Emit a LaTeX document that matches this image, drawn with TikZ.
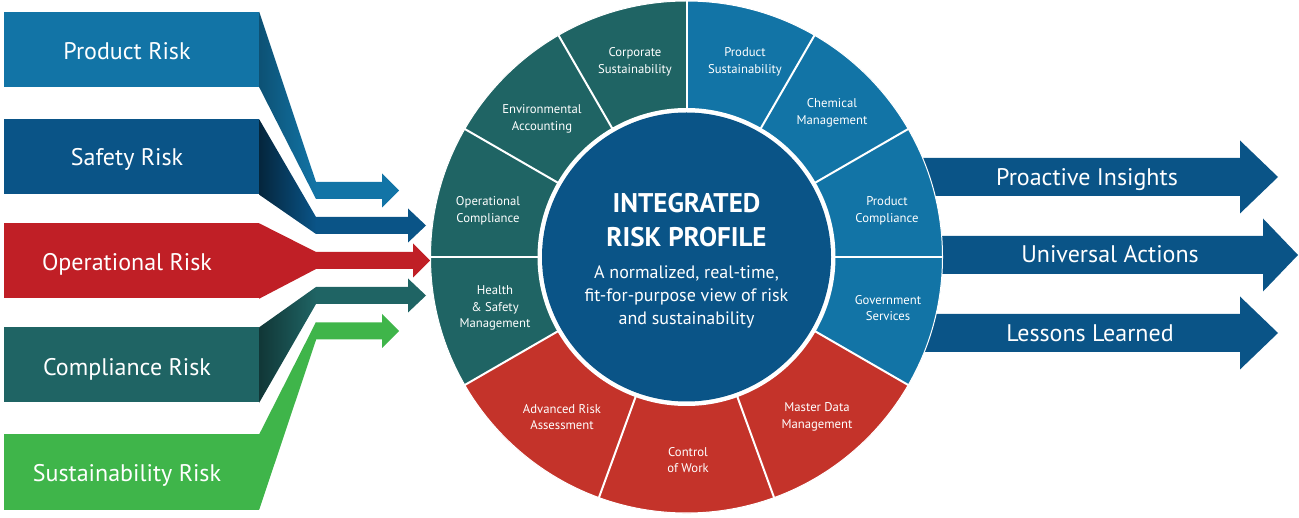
\documentclass[tikz,border=0pt]{standalone}
\usepackage{fontspec}
\setmainfont{PT Sans}
\definecolor{pblue}{HTML}{1274A6}
\definecolor{dblue}{HTML}{0A5487}
\definecolor{mteal}{HTML}{1F6464}
\definecolor{rred}{HTML}{C01F26}
\definecolor{sred}{HTML}{C4332A}
\definecolor{ggreen}{HTML}{3FB54A}
\tikzset{
  riskbox/.style={minimum width=255pt, minimum height=75pt, inner sep=0pt},
  bigtext/.style={text=white, font=\fontsize{24}{28}\selectfont, inner sep=0pt, anchor=base},
  seglabel/.style={text=white, align=center, font=\fontsize{12.7}{16.8}\selectfont, inner sep=0pt},
  sepline/.style={white, line width=2pt},
}
\newcommand\riskarrow[4]{% center y, head start x, tip x, colour
  \fill[#4] (316,{#1+8.5}) -- (#2,{#1+8.5}) -- (#2,{#1+17}) -- (#3,#1) -- (#2,{#1-17}) -- (#2,{#1-8.5}) -- (316,{#1-8.5}) -- cycle;}
\newcommand\outarrow[3]{% center y, head start x, tip x
  \fill[dblue] (880,{#1+19}) -- (#2,{#1+19}) -- (#2,{#1+36.5}) -- (#3,#1) -- (#2,{#1-36.5}) -- (#2,{#1-19}) -- (880,{#1-19}) -- cycle;}
\begin{document}
\begin{tikzpicture}[x=1pt,y=1pt]
\useasboundingbox (0,0) rectangle (1299,517);
% left boxes
\node[riskbox, fill=pblue] (pr) at (131.5,467.5) {};
\node[riskbox, fill=dblue] (sr) at (131.5,360) {};
\node[riskbox, fill=rred] (or) at (131.5,256) {};
\node[riskbox, fill=mteal] (cr) at (131.5,152) {};
\node[riskbox, fill=ggreen] (su) at (131.5,45) {};
\node[bigtext] (prt) at (127,457) {Product Risk};
\node[bigtext] (srt) at (127,351) {Safety Risk};
\node[bigtext] (ort) at (127,246) {Operational Risk};
\node[bigtext] (crt) at (127,141) {Compliance Risk};
\node[bigtext] (sut) at (127,35) {Sustainability Risk};
% connectors
\shade[left color=pblue!70!black, right color=pblue] (pr.north east) -- (316,335) -- (316,318) -- (pr.south east) -- cycle;
\shade[left color=dblue!45!black, right color=dblue] (sr.north east) -- (316,300) -- (316,283) -- (sr.south east) -- cycle;
\fill[rred] (or.north east) -- (316,265) -- (316,248) -- (or.south east) -- cycle;
\shade[left color=mteal!55!black, right color=mteal] (cr.north east) -- (316,230) -- (316,213) -- (cr.south east) -- cycle;
\fill[ggreen] (su.north east) -- (316,195) -- (316,177) -- (su.south east) -- cycle;
% arrows into circle
\riskarrow{326.5}{382}{399}{pblue}
\riskarrow{291.5}{408}{426}{dblue}
\riskarrow{256.5}{413}{430}{rred}
\riskarrow{221.5}{408}{426}{mteal}
\riskarrow{186}{382}{399}{ggreen}
% outgoing arrows
\outarrow{340}{1240}{1278}
\outarrow{262}{1263}{1298}
\outarrow{184}{1240}{1278}
\node[bigtext] (pi) at (1087,331) {Proactive Insights};
\node[bigtext] (ua) at (1110,254) {Universal Actions};
\node[bigtext] (ll) at (1090,175) {Lessons Learned};
% wheel
\begin{scope}[shift={(686.5,260)}]
  \fill[mteal] (0,0) -- (90:256) arc[start angle=90, end angle=210, radius=256] -- cycle;
  \fill[pblue] (0,0) -- (-30:256) arc[start angle=-30, end angle=90, radius=256] -- cycle;
  \fill[sred] (0,0) -- (210:256) arc[start angle=210, end angle=330, radius=256] -- cycle;
  \draw[white, line width=1pt] (0,0) circle[radius=256];
  \foreach \a in {0,30,60,90,120,150,180,210,250,290,330}
    \draw[sepline] (\a:140) -- (\a:256);
  \fill[white] (0,0) circle[radius=149];
  \fill[dblue] (0,0) circle[radius=144.5];
\end{scope}
% segment labels
\node[seglabel] (cs) at (635,455.5) {Corporate\\Sustainability};
\node[seglabel] (ps) at (745,455.5) {Product\\Sustainability};
\node[seglabel] (ea) at (542,398.5) {Environmental\\Accounting};
\node[seglabel] (cm) at (832,404) {Chemical\\Management};
\node[seglabel] (oc) at (488,306) {Operational\\Compliance};
\node[seglabel] (pc) at (887,306) {Product\\Compliance};
\node[seglabel] (hs) at (495,209) {Health\\\&~Safety\\Management};
\node[seglabel] (gs) at (888,209) {Government\\Services};
\node[seglabel] (ar) at (562,100) {Advanced Risk\\Assessment};
\node[seglabel] (cw) at (688,57) {Control\\of Work};
\node[seglabel] (md) at (817,100) {Master Data\\Management};
% centre text
\tikzset{titletext/.style={text=white, inner sep=0pt, anchor=base, font=\bfseries\fontsize{27}{31}\selectfont},
         subtext/.style={text=white, inner sep=0pt, anchor=base, font=\fontsize{18}{22}\selectfont}}
\node[titletext] (t1) at (686.5,304) {INTEGRATED};
\node[titletext] (t2) at (686.5,270) {RISK PROFILE};
\node[subtext] (s1) at (686.5,238) {A normalized, real-time,};
\node[subtext] (s2) at (686.5,215) {fit-for-purpose view of risk};
\node[subtext] (s3) at (686.5,192) {and sustainability};
\end{tikzpicture}
\end{document}
